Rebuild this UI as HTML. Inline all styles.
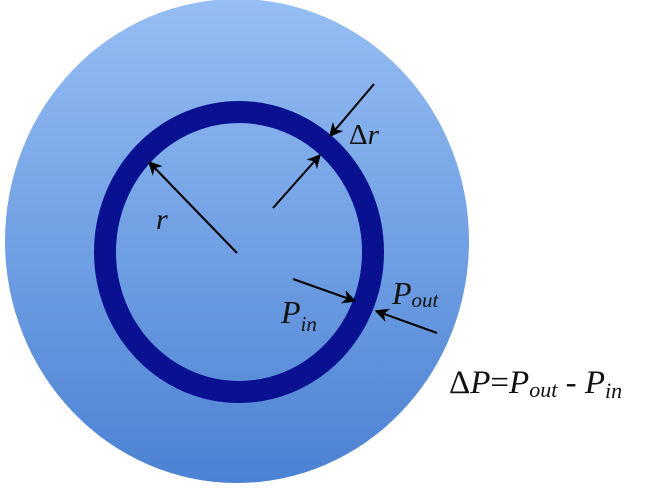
<!DOCTYPE html>
<html><head><meta charset="utf-8"><style>
html,body{margin:0;padding:0;background:#fff;}
svg{display:block;}
text{font-family:"Liberation Serif",serif;fill:#111;}
</style></head><body>
<svg width="648" height="496" viewBox="0 0 648 496">
<defs>
<linearGradient id="g" x1="0" y1="0" x2="0" y2="1">
<stop offset="0" stop-color="#96bef4"/><stop offset="1" stop-color="#4c82d3"/>
</linearGradient>
<marker id="ah" viewBox="0 0 10 10" refX="9" refY="5" markerWidth="7" markerHeight="7" orient="auto-start-reverse">
<path d="M0,0 L10,5 L0,10 L3,5 z" fill="#000"/>
</marker>
</defs>
<ellipse cx="237" cy="241" rx="232" ry="242" fill="url(#g)"/>
<ellipse cx="239" cy="252" rx="134" ry="140" fill="none" stroke="#0a1190" stroke-width="22"/>
<g stroke="#000" stroke-width="2" fill="none" marker-end="url(#ah)">
<line x1="237" y1="253" x2="149" y2="162"/>
<line x1="273" y1="208" x2="320" y2="155"/>
<line x1="374" y1="84" x2="330" y2="136"/>
<line x1="293" y1="279" x2="355" y2="301"/>
<line x1="437" y1="333" x2="376" y2="311"/>
</g>
<text x="156" y="229" font-size="30" font-style="italic">r</text>
<text x="349" y="144" font-size="29">Δ<tspan font-style="italic">r</tspan></text>
<text x="392" y="304" font-size="32" font-style="italic">P<tspan font-size="21" dy="3">out</tspan></text>
<text x="281" y="323" font-size="32" font-style="italic">P<tspan font-size="21" dy="8">in</tspan></text>
<text x="449" y="393" font-size="33">Δ<tspan font-style="italic">P</tspan>=<tspan font-style="italic">P</tspan><tspan font-size="22" dy="4" font-style="italic">out</tspan><tspan dy="-4"> - </tspan><tspan font-style="italic">P</tspan><tspan font-size="22" dy="5" font-style="italic">in</tspan></text>
</svg>
</body></html>
